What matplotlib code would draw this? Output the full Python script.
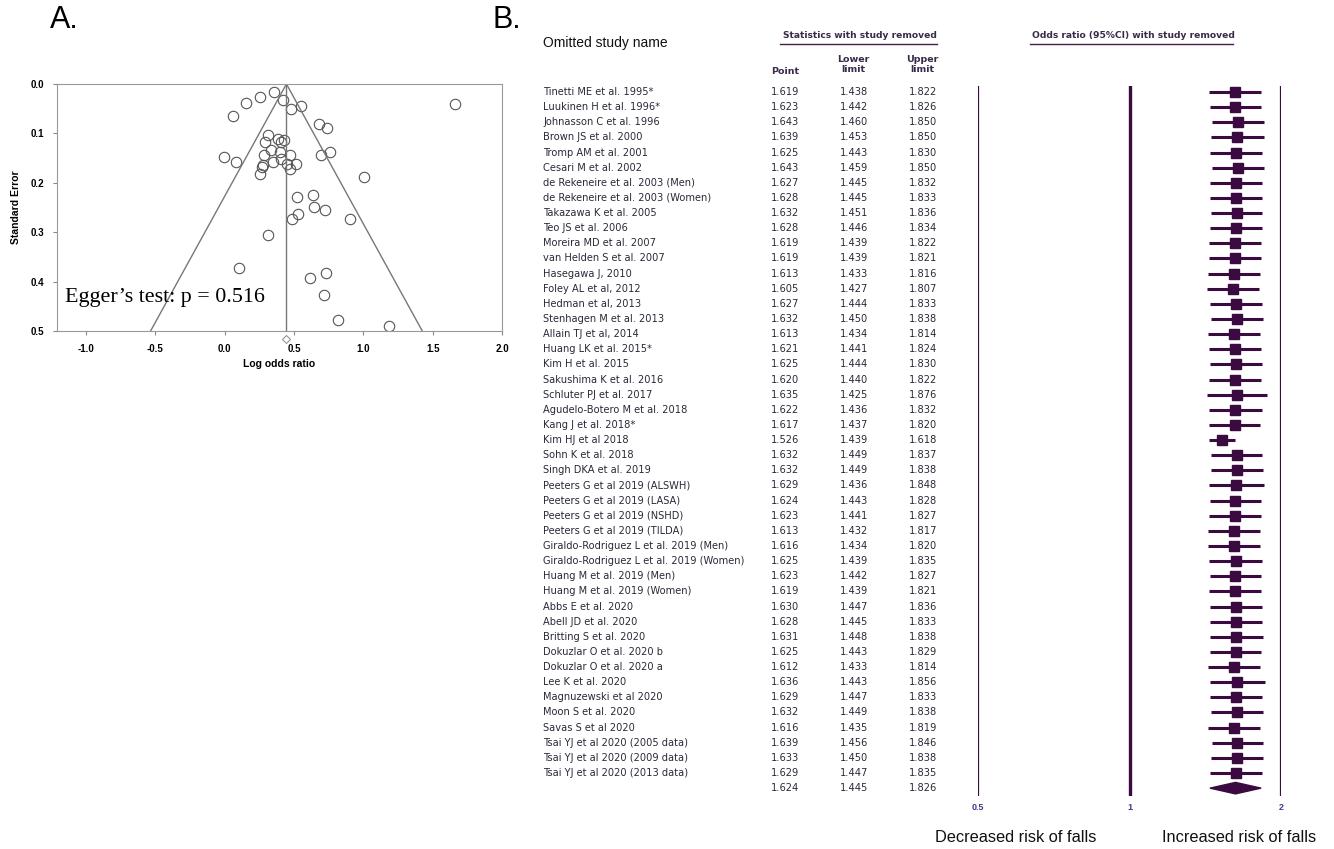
import numpy as np
import matplotlib
matplotlib.use("Agg")
import matplotlib.pyplot as plt
from matplotlib.lines import Line2D
from matplotlib.patches import Polygon
import matplotlib.transforms as mtransforms

plt.rcParams['font.family'] = ['Liberation Sans', 'DejaVu Sans']

# ---- funnel plot data (log odds ratio, standard error) ----
log_or = [0.356, 0.252, 0.423, 0.154, 0.476, 0.553, 0.058, 1.663, 0.683, 0.738,
          0.313, 0.293, 0.382, 0.406, 0.425, 0.334, 0.397, 0.281, 0.469, 0.695,
          0.757, -0.002, 0.084, 0.406, 0.351, 0.447, 0.517, 0.279, 0.267, 0.474,
          0.252, 1.007, 0.522, 0.639, 0.644, 0.726, 0.531, 0.483, 0.901, 0.313,
          0.106, 0.728, 0.618, 0.714, 0.817, 1.183]
std_err = [0.016, 0.027, 0.032, 0.039, 0.051, 0.044, 0.064, 0.041, 0.080, 0.090,
           0.104, 0.117, 0.111, 0.117, 0.113, 0.133, 0.137, 0.144, 0.143, 0.144,
           0.137, 0.148, 0.158, 0.152, 0.158, 0.161, 0.162, 0.164, 0.169, 0.173,
           0.183, 0.189, 0.228, 0.225, 0.248, 0.255, 0.263, 0.274, 0.274, 0.306,
           0.372, 0.383, 0.393, 0.427, 0.478, 0.489]
pooled_log_or = 0.445

# ---- leave-one-out sensitivity data ----
studies = [
    "Tinetti ME et al. 1995*", "Luukinen H et al. 1996*", "Johnasson C et al. 1996",
    "Brown JS et al. 2000", "Tromp AM et al. 2001", "Cesari M et al. 2002",
    "de Rekeneire et al. 2003 (Men)", "de Rekeneire et al. 2003 (Women)",
    "Takazawa K et al. 2005", "Teo JS et al. 2006", "Moreira MD et al. 2007",
    "van Helden S et al. 2007", "Hasegawa J, 2010", "Foley AL et al, 2012",
    "Hedman et al, 2013", "Stenhagen M et al. 2013", "Allain TJ et al, 2014",
    "Huang LK et al. 2015*", "Kim H et al. 2015", "Sakushima K et al. 2016",
    "Schluter PJ et al. 2017", "Agudelo-Botero M et al. 2018", "Kang J et al. 2018*",
    "Kim HJ et al 2018", "Sohn K et al. 2018", "Singh DKA et al. 2019",
    "Peeters G et al 2019 (ALSWH)", "Peeters G et al 2019 (LASA)",
    "Peeters G et al 2019 (NSHD)", "Peeters G et al 2019 (TILDA)",
    "Giraldo-Rodriguez L et al. 2019 (Men)", "Giraldo-Rodriguez L et al. 2019 (Women)",
    "Huang M et al. 2019 (Men)", "Huang M et al. 2019 (Women)", "Abbs E et al. 2020",
    "Abell JD et al. 2020", "Britting S et al. 2020", "Dokuzlar O et al. 2020 b",
    "Dokuzlar O et al. 2020 a", "Lee K et al. 2020", "Magnuzewski et al 2020",
    "Moon S et al. 2020", "Savas S et al 2020", "Tsai YJ et al 2020 (2005 data)",
    "Tsai YJ et al 2020 (2009 data)", "Tsai YJ et al 2020 (2013 data)",
]
point = [1.619, 1.623, 1.643, 1.639, 1.625, 1.643, 1.627, 1.628, 1.632, 1.628,
         1.619, 1.619, 1.613, 1.605, 1.627, 1.632, 1.613, 1.621, 1.625, 1.620,
         1.635, 1.622, 1.617, 1.526, 1.632, 1.632, 1.629, 1.624, 1.623, 1.613,
         1.616, 1.625, 1.623, 1.619, 1.630, 1.628, 1.631, 1.625, 1.612, 1.636,
         1.629, 1.632, 1.616, 1.639, 1.633, 1.629]
lower = [1.438, 1.442, 1.460, 1.453, 1.443, 1.459, 1.445, 1.445, 1.451, 1.446,
         1.439, 1.439, 1.433, 1.427, 1.444, 1.450, 1.434, 1.441, 1.444, 1.440,
         1.425, 1.436, 1.437, 1.439, 1.449, 1.449, 1.436, 1.443, 1.441, 1.432,
         1.434, 1.439, 1.442, 1.439, 1.447, 1.445, 1.448, 1.443, 1.433, 1.443,
         1.447, 1.449, 1.435, 1.456, 1.450, 1.447]
upper = [1.822, 1.826, 1.850, 1.850, 1.830, 1.850, 1.832, 1.833, 1.836, 1.834,
         1.822, 1.821, 1.816, 1.807, 1.833, 1.838, 1.814, 1.824, 1.830, 1.822,
         1.876, 1.832, 1.820, 1.618, 1.837, 1.838, 1.848, 1.828, 1.827, 1.817,
         1.820, 1.835, 1.827, 1.821, 1.836, 1.833, 1.838, 1.829, 1.814, 1.856,
         1.833, 1.838, 1.819, 1.846, 1.838, 1.835]
summary = (1.624, 1.445, 1.826)

purple = '#3b0a40'
txt = '#2c2838'
tfont = 'DejaVu Sans'
W, H = 1334, 849

fig = plt.figure(figsize=(W / 100, H / 100), dpi=100)

def fx(px):
    return px / W

def fy(py):
    return 1 - py / H

# ================= A. funnel plot =================
ax = fig.add_axes([fx(57), fy(331), fx(502) - fx(57), fy(84) - fy(331)])
ax.plot(log_or, std_err, 'o', ms=7.5, mfc='none', mec='#555555', mew=0.8)
ax.plot([pooled_log_or - 1.96 * 0.5, pooled_log_or, pooled_log_or + 1.96 * 0.5],
        [0.5, 0, 0.5], color='#777777', lw=1)
ax.plot([pooled_log_or, pooled_log_or], [0, 0.5], color='#777777', lw=1)
ax.plot([pooled_log_or], [0.516], 'D', ms=4, mfc='none', mec='#888888', mew=0.7,
        clip_on=False)
ax.set_xlim(-1.21, 2.0)
ax.set_ylim(0.5, 0.0)
ax.set_xticks(np.arange(-1.0, 2.01, 0.5))
ax.set_yticks(np.arange(0.0, 0.51, 0.1))
ax.xaxis.set_major_formatter(plt.FormatStrFormatter('%.1f'))
ax.yaxis.set_major_formatter(plt.FormatStrFormatter('%.1f'))
ax.tick_params(labelsize=7, length=3, color='#888888', pad=6)
for lab in ax.get_xticklabels() + ax.get_yticklabels():
    lab.set_fontweight('bold')
for s in ax.spines.values():
    s.set_color('#999999')
ax.set_xlabel('Log odds ratio', fontsize=7.5, fontweight='bold', labelpad=4)
ax.set_ylabel('Standard Error', fontsize=7.5, fontweight='bold', labelpad=7)
ax.text(-1.152, 0.433, "Egger\u2019s test: p = 0.516", fontsize=15.8,
        family='Liberation Serif', va='center', ha='left')

fig.text(fx(50), fy(20), 'A.', fontsize=22, va='center', ha='left')
fig.text(fx(493), fy(20), 'B.', fontsize=22, va='center', ha='left')

# ================= B. forest plot =================
n = len(studies)
top_px, bot_px, row0_px = 86, 796, 92
step = (773 - row0_px) / (n - 1)
fa = fig.add_axes([fx(978), fy(bot_px), fx(1281) - fx(978), fy(top_px) - fy(bot_px)])
fa.set_xscale('log')
fa.set_xlim(0.5, 2)
fa.set_ylim((bot_px - row0_px) / step, (top_px - row0_px) / step)
for s in fa.spines.values():
    s.set_visible(False)
fa.set_yticks([])
fa.set_xticks([0.5, 1, 2])
fa.set_xticklabels(['0.5', '1', '2'])
fa.xaxis.set_minor_locator(matplotlib.ticker.NullLocator())
fa.tick_params(axis='x', length=0, pad=5, labelsize=6.5, labelcolor='#3c3c8c')
for lab in fa.get_xticklabels():
    lab.set_fontweight('bold')
fa.axvline(0.5, color=purple, lw=1.6)
fa.axvline(1, color=purple, lw=2.4)
fa.axvline(2, color=purple, lw=1.6)

rows = np.arange(n)
fa.hlines(rows, lower, upper, color=purple, lw=2.2)
fa.plot(point, rows, 's', ms=7, color=purple)
ps, ls, us = summary
fa.add_patch(Polygon([[ls, n], [ps, n - 0.38], [us, n], [ps, n + 0.38]],
                     closed=True, color=purple))

# table text, figure x / forest-row y
tr = mtransforms.blended_transform_factory(fig.transFigure, fa.transData)
for i, name in enumerate(studies):
    fa.text(fx(543), i, name, transform=tr, fontsize=7.1, family=tfont, color=txt,
            va='center', ha='left')
for i in range(n + 1):
    p, lo, up = (point[i], lower[i], upper[i]) if i < n else summary
    for xr, v in ((799, p), (868, lo), (937, up)):
        fa.text(fx(xr), i, f'{v:.3f}', transform=tr, fontsize=7.1, family=tfont,
                color=txt, va='center', ha='right')

hdr = '#3a2a4a'
fig.text(fx(543), fy(43), 'Omitted study name', fontsize=10, va='center', ha='left', color='#111111')
fig.text(fx(860), fy(35), 'Statistics with study removed', fontsize=6.6, fontweight='bold',
         family=tfont, va='center', ha='center', color=hdr)
fig.add_artist(Line2D([fx(780), fx(937)], [fy(44), fy(44)], color='#4a1a4a', lw=1))
fig.text(fx(1133), fy(35), 'Odds ratio (95%CI) with study removed', fontsize=6.6,
         fontweight='bold', family=tfont, va='center', ha='center', color=hdr)
fig.add_artist(Line2D([fx(1030), fx(1233)], [fy(44), fy(44)], color='#4a1a4a', lw=1))
for xc, yc, s in ((785, 71, 'Point'), (853, 59, 'Lower'), (853, 70, 'limit'),
                  (922, 59, 'Upper'), (922, 70, 'limit')):
    fig.text(fx(xc), fy(yc), s, fontsize=6.8, fontweight='bold', family=tfont,
             va='center', ha='center', color=hdr)

fig.text(fx(1016), fy(838), 'Decreased risk of falls', fontsize=11.8, va='center', ha='center', color='#111111')
fig.text(fx(1239), fy(838), 'Increased risk of falls', fontsize=11.8, va='center', ha='center', color='#111111')

fig.savefig('out.png', dpi=100)
